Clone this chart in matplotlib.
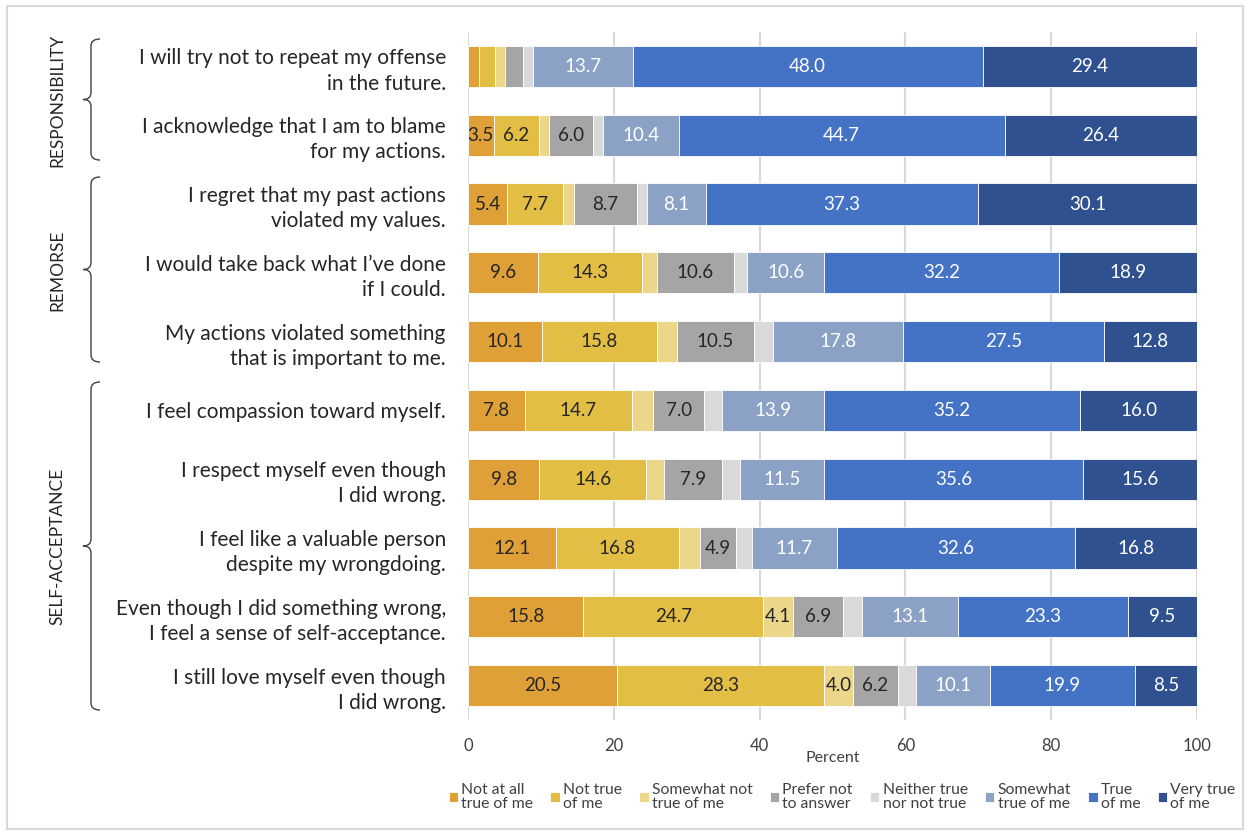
import matplotlib
matplotlib.use('Agg')
import matplotlib.pyplot as plt
import numpy as np
from matplotlib.path import Path
from matplotlib.patches import PathPatch, Rectangle

plt.rcParams['font.family'] = ['Lato', 'DejaVu Sans']

# statements, top to bottom
statements = [
    'I will try not to repeat my offense\nin the future.',
    'I acknowledge that I am to blame\nfor my actions.',
    'I regret that my past actions\nviolated my values.',
    'I would take back what I\u2019ve done\nif I could.',
    'My actions violated something\nthat is important to me.',
    'I feel compassion toward myself.',
    'I respect myself even though\nI did wrong.',
    'I feel like a valuable person\ndespite my wrongdoing.',
    'Even though I did something wrong,\nI feel a sense of self-acceptance.',
    'I still love myself even though\nI did wrong.',
]

# percent per response (same order as statements)
not_at_all    = [1.5, 3.5, 5.4, 9.6, 10.1, 7.8, 9.8, 12.1, 15.8, 20.5]
not_true      = [2.2, 6.2, 7.7, 14.3, 15.8, 14.7, 14.6, 16.8, 24.7, 28.3]
somewhat_not  = [1.4, 1.4, 1.4, 2.0, 2.8, 2.9, 2.5, 2.9, 4.1, 4.0]
prefer_not    = [2.4, 6.0, 8.7, 10.6, 10.5, 7.0, 7.9, 4.9, 6.9, 6.2]
neither       = [1.4, 1.4, 1.3, 1.8, 2.7, 2.5, 2.5, 2.2, 2.6, 2.5]
somewhat_true = [13.7, 10.4, 8.1, 10.6, 17.8, 13.9, 11.5, 11.7, 13.1, 10.1]
true_of_me    = [48.0, 44.7, 37.3, 32.2, 27.5, 35.2, 35.6, 32.6, 23.3, 19.9]
very_true     = [29.4, 26.4, 30.1, 18.9, 12.8, 16.0, 15.6, 16.8, 9.5, 8.5]

series = [not_at_all, not_true, somewhat_not, prefer_not,
          neither, somewhat_true, true_of_me, very_true]
legend_labels = ['Not at all\ntrue of me', 'Not true\nof me', 'Somewhat not\ntrue of me',
                 'Prefer not\nto answer', 'Neither true\nnor not true',
                 'Somewhat\ntrue of me', 'True\nof me', 'Very true\nof me']
colors = ['#E0A038', '#E2BE44', '#EBD68A', '#A5A5A5',
          '#D9D9D9', '#8BA2C6', '#4472C4', '#2F5190']
text_colors = ['#262626'] * 5 + ['white'] * 3

groups = ['RESPONSIBILITY', 'REMORSE', 'SELF-ACCEPTANCE']

W, H = 1250, 832
fig = plt.figure(figsize=(W / 100, H / 100), dpi=100)
ax = fig.add_axes([468 / W, 1 - 720 / H, 729 / W, 688 / H])

y = np.arange(len(statements))
left = np.zeros(len(statements))
for vals, col, tc, lab in zip(series, colors, text_colors, legend_labels):
    bars = ax.barh(y, vals, left=left, height=0.6, color=col,
                   edgecolor='white', linewidth=0.6, label=lab, zorder=2)
    labs = ['%.1f' % v if v >= 3.5 else '' for v in vals]
    ax.bar_label(bars, labels=labs, label_type='center', color=tc, fontsize=13.5)
    left += np.array(vals)

ax.set_xlim(0, 100)
ax.set_ylim(len(statements) - 0.5, -0.5)
ax.set_xticks(range(0, 101, 20))
ax.set_yticks(y)
ax.set_yticklabels(statements, fontsize=15, color='#262626', linespacing=1.32)
ax.tick_params(axis='both', length=0)
ax.tick_params(axis='y', pad=16)
ax.tick_params(axis='x', pad=13, labelsize=12, labelcolor='#404040')
ax.xaxis.grid(True, color='#D9D9D9', linewidth=1.5, zorder=0)
ax.set_axisbelow(True)
for s in ax.spines.values():
    s.set_visible(False)
ax.set_xlabel('Percent', fontsize=11.5, color='#404040', labelpad=-2)

leg = ax.legend(loc='center', bbox_to_anchor=(842 / W, 1 - 797 / H),
                bbox_transform=fig.transFigure, ncol=8, frameon=False,
                fontsize=11.3, handlelength=0.6, handleheight=0.6,
                handletextpad=0.2, columnspacing=1.1, labelcolor='#404040')
for t in leg.get_texts():
    t.set_linespacing(1.05)


# curly braces on the left
def brace(x, y0, y1):
    ym = (y0 + y1) / 2
    pts = [(x + 9, y0), (x, y0), (x, y0 + 7),
           (x, ym - 7), (x, ym), (x - 8, ym),
           (x, ym), (x, ym + 7),
           (x, y1 - 7), (x, y1), (x + 9, y1)]
    codes = [Path.MOVETO, Path.CURVE3, Path.CURVE3,
             Path.LINETO, Path.CURVE3, Path.CURVE3,
             Path.CURVE3, Path.CURVE3,
             Path.LINETO, Path.CURVE3, Path.CURVE3]
    verts = [(px / W, 1 - py / H) for px, py in pts]
    fig.add_artist(PathPatch(Path(verts, codes), transform=fig.transFigure,
                             fill=False, edgecolor='#404040', linewidth=1))


brace(91, 39, 160)
brace(91, 177, 362)
brace(91, 382, 710)
for name, yc in zip(groups, [100, 270, 546]):
    fig.text(57 / W, 1 - yc / H, name, rotation=90, ha='center', va='center',
             fontsize=12.5, color='#262626')

fig.add_artist(Rectangle((7 / W, 1 - 829 / H), 1236 / W, 823 / H,
                         transform=fig.transFigure, fill=False,
                         edgecolor='#D9D9D9', linewidth=1.5))

fig.savefig('out.png', dpi=100)
